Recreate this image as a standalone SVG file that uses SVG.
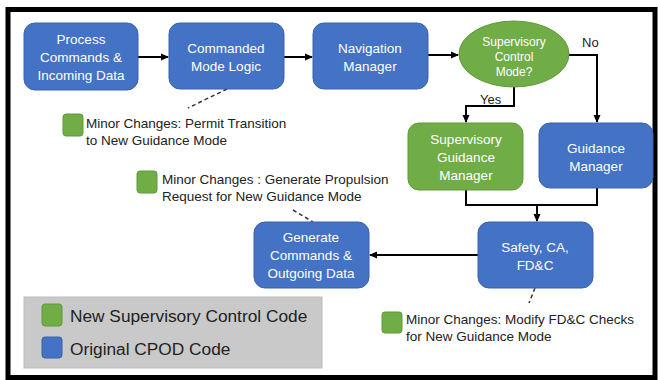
<svg xmlns="http://www.w3.org/2000/svg" width="658" height="380" viewBox="0 0 658 380">
<defs>
<marker id="ah" markerWidth="8" markerHeight="8" refX="7" refY="4" orient="auto" markerUnits="userSpaceOnUse">
<path d="M0,0.5 L8,4 L0,7.5 Z" fill="#000"/>
</marker>
<style>
.blue{fill:#4472c4;stroke:#3a62ad;stroke-width:1}
.green{fill:#70ad47;stroke:#5f9a3a;stroke-width:1}
.nt{font-family:"Liberation Sans",Arial,sans-serif;font-size:13.5px;fill:#fff;text-anchor:middle}
.st{font-family:"Liberation Sans",Arial,sans-serif;font-size:12px;fill:#fff;text-anchor:middle}
.lbl{font-family:"Liberation Sans",Arial,sans-serif;font-size:13px;fill:#222}
.note{font-family:"Liberation Sans",Arial,sans-serif;font-size:13.5px;fill:#222}
.leg{font-family:"Liberation Sans",Arial,sans-serif;font-size:17.3px;fill:#222}
.conn{fill:none;stroke:#000;stroke-width:2}
.dash{fill:none;stroke:#333;stroke-width:1.5;stroke-dasharray:4,3}
</style>
</defs>
<rect x="0" y="0" width="658" height="380" fill="#fff"/>
<rect x="8" y="9.5" width="647" height="368" fill="#fff" stroke="#000" stroke-width="5"/>

<g id="legend">
<rect x="24" y="297" width="298" height="71" fill="#c9c9c9" stroke="#bdbdbd"/>
<rect x="42" y="304" width="20" height="22" rx="3" class="green"/>
<text x="70" y="322" class="leg">New Supervisory Control Code</text>
<rect x="42" y="337" width="20" height="21" rx="3" class="blue"/>
<text x="70" y="355" class="leg">Original CPOD Code</text>
</g>

<g id="connectors">
<line x1="138" y1="57" x2="168" y2="57" class="conn" marker-end="url(#ah)"/>
<line x1="284" y1="57" x2="312" y2="57" class="conn" marker-end="url(#ah)"/>
<line x1="428" y1="55" x2="458" y2="55" class="conn" marker-end="url(#ah)"/>
<polyline points="569,55 597,55 597,122" class="conn" marker-end="url(#ah)"/>
<polyline points="514,87 514,106 466,106 466,122" class="conn" marker-end="url(#ah)"/>
<polyline points="466,190 466,205 597,205 597,188" class="conn"/>
<line x1="537" y1="205" x2="537" y2="221" class="conn" marker-end="url(#ah)"/>
<line x1="478" y1="255" x2="370" y2="255" class="conn" marker-end="url(#ah)"/>
<line x1="227" y1="89" x2="188" y2="108" class="dash"/>
<line x1="293" y1="210" x2="313" y2="222" class="dash"/>
<line x1="535" y1="288" x2="529" y2="303" class="dash"/>
<text x="582" y="47" class="lbl">No</text>
<text x="480" y="104" class="lbl">Yes</text>
</g>

<g id="process">
<rect x="24" y="23" width="114" height="67" rx="11" class="blue"/>
<text class="nt"><tspan x="81" y="44">Process</tspan><tspan x="81" y="62">Commands &amp;</tspan><tspan x="81" y="80">Incoming Data</tspan></text>
</g>
<g id="commanded">
<rect x="169" y="23" width="115" height="66" rx="11" class="blue"/>
<text class="nt"><tspan x="226" y="53">Commanded</tspan><tspan x="226" y="71">Mode Logic</tspan></text>
</g>
<g id="navigation">
<rect x="313" y="23" width="115" height="66" rx="11" class="blue"/>
<text class="nt"><tspan x="370" y="53">Navigation</tspan><tspan x="370" y="71">Manager</tspan></text>
</g>
<g id="decision">
<ellipse cx="514" cy="54" rx="55" ry="33" class="green"/>
<text class="st"><tspan x="514" y="46">Supervisory</tspan><tspan x="514" y="61">Control</tspan><tspan x="514" y="76">Mode?</tspan></text>
</g>
<g id="supguid">
<rect x="408" y="123" width="115" height="67" rx="11" class="green"/>
<text class="nt"><tspan x="466" y="144">Supervisory</tspan><tspan x="466" y="162">Guidance</tspan><tspan x="466" y="180">Manager</tspan></text>
</g>
<g id="guidance">
<rect x="539" y="123" width="114" height="65" rx="11" class="blue"/>
<text class="nt"><tspan x="596" y="153">Guidance</tspan><tspan x="596" y="171">Manager</tspan></text>
</g>
<g id="safety">
<rect x="478" y="222" width="115" height="66" rx="11" class="blue"/>
<text class="nt"><tspan x="535" y="252">Safety, CA,</tspan><tspan x="535" y="270">FD&amp;C</tspan></text>
</g>
<g id="generate">
<rect x="254" y="222" width="115" height="66" rx="11" class="blue"/>
<text class="nt"><tspan x="311" y="242">Generate</tspan><tspan x="311" y="260">Commands &amp;</tspan><tspan x="311" y="278">Outgoing Data</tspan></text>
</g>

<g id="note1">
<rect x="63" y="114" width="20" height="22" rx="3" class="green"/>
<text class="note"><tspan x="86" y="128">Minor Changes: Permit Transition</tspan><tspan x="86" y="145">to New Guidance Mode</tspan></text>
</g>
<g id="note2">
<rect x="137" y="171" width="20" height="22" rx="3" class="green"/>
<text class="note"><tspan x="162" y="184">Minor Changes : Generate Propulsion</tspan><tspan x="162" y="201">Request for New Guidance Mode</tspan></text>
</g>
<g id="note3">
<rect x="382" y="312" width="20" height="21" rx="3" class="green"/>
<text class="note"><tspan x="406" y="324">Minor Changes: Modify FD&amp;C Checks</tspan><tspan x="406" y="341">for New Guidance Mode</tspan></text>
</g>
</svg>
